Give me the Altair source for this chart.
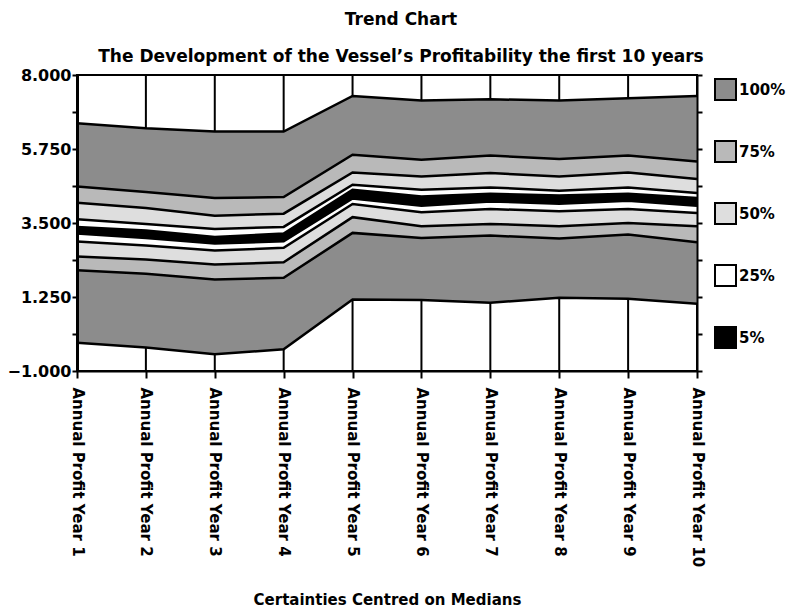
import altair as alt
import pandas as pd

# Year categories on the x axis
years = [f"Annual Profit Year {i}" for i in range(1, 11)]

# Band boundaries per year (thousands), from the outer maximum down to the outer minimum
p100_hi = [6.535, 6.383, 6.280, 6.280, 7.363, 7.221, 7.263, 7.221, 7.293, 7.363]
p75_hi = [4.612, 4.442, 4.260, 4.291, 5.574, 5.422, 5.552, 5.443, 5.552, 5.370]
p50_hi = [4.118, 3.957, 3.723, 3.784, 5.037, 4.915, 5.019, 4.915, 5.037, 4.837]
p25_hi = [3.611, 3.472, 3.320, 3.381, 4.664, 4.512, 4.582, 4.482, 4.582, 4.412]
p5_hi = [3.375, 3.269, 3.078, 3.178, 4.512, 4.309, 4.391, 4.339, 4.391, 4.260]
p5_lo = [3.178, 3.047, 2.874, 2.944, 4.248, 4.027, 4.157, 4.087, 4.178, 4.027]
p25_lo = [2.935, 2.814, 2.662, 2.744, 4.078, 3.824, 3.927, 3.854, 3.927, 3.805]
p50_lo = [2.480, 2.389, 2.237, 2.307, 3.678, 3.399, 3.472, 3.399, 3.502, 3.399]
p75_lo = [2.064, 1.955, 1.782, 1.834, 3.199, 3.041, 3.117, 3.026, 3.147, 2.914]
p100_lo = [-0.138, -0.289, -0.492, -0.341, 1.176, 1.155, 1.076, 1.227, 1.197, 1.045]

# Certainty levels and their fills
levels = ["100%", "75%", "50%", "25%", "5%"]
fills = ["#8c8c8c", "#b9b9b9", "#dedede", "#ffffff", "#000000"]

# Tick positions on the value axis (major every 2.25, minor halfway between)
major_ticks = [8.0, 5.75, 3.5, 1.25, -1.0]
all_ticks = [8.0, 6.875, 5.75, 4.625, 3.5, 2.375, 1.25, 0.125, -1.0]

FONT = "DejaVu Sans"

bounds = [p100_hi, p75_hi, p50_hi, p25_hi, p5_hi, p5_lo, p25_lo, p50_lo, p75_lo, p100_lo]
band_levels = ["100%", "75%", "50%", "25%", "5%", "25%", "50%", "75%", "100%"]

area_rows = []
for k, lvl in enumerate(band_levels):
    upper, lower = bounds[k], bounds[k + 1]
    for i, yr in enumerate(years):
        area_rows.append({"year": yr, "band": f"b{k}", "level": lvl,
                          "upper": upper[i], "lower": lower[i]})
area_df = pd.DataFrame(area_rows)

line_rows = []
for k, b in enumerate(bounds):
    for i, yr in enumerate(years):
        line_rows.append({"year": yr, "edge": f"e{k}", "value": b[i]})
line_df = pd.DataFrame(line_rows)

year_df = pd.DataFrame({"year": years})

x_scale = alt.Scale(type="point", domain=years, padding=0)
y_scale = alt.Scale(domain=[-1, 8], nice=False, zero=False)

label_expr = ("indexof([8, 5.75, 3.5, 1.25, -1], datum.value) >= 0 ? "
              "format(datum.value, '.3f') : ''")

x_axis = alt.Axis(
    title="Certainties Centred on Medians",
    labelAngle=90, labelAlign="left", labelBaseline="middle",
    labelFont=FONT, labelFontSize=15, labelFontWeight="bold", labelColor="black",
    labelPadding=9, labelOverlap=False,
    titleFont=FONT, titleFontSize=15, titleFontWeight="bold", titleColor="black",
    titlePadding=26,
    domainColor="black", domainWidth=2, tickColor="black", tickWidth=2, tickSize=7,
    grid=False, zindex=1,
)

# vertical gridlines at each year, behind the bands
grid = alt.Chart(year_df).mark_rule(color="black", strokeWidth=2).encode(
    x=alt.X("year:N", scale=x_scale, axis=x_axis),
)

areas = alt.Chart(area_df).mark_area(interpolate="linear", opacity=1).encode(
    x=alt.X("year:N", scale=x_scale, axis=x_axis),
    y=alt.Y("upper:Q", scale=y_scale, stack=None, axis=alt.Axis(
        title=None, values=all_ticks, labelExpr=label_expr,
        labelFont=FONT, labelFontSize=16, labelFontWeight="bold", labelColor="black",
        labelPadding=1, domainColor="black", domainWidth=3,
        tickColor="black", tickWidth=2, tickSize=5, grid=False, zindex=1,
    )),
    y2="lower:Q",
    color=alt.Color("level:N", scale=alt.Scale(domain=levels, range=fills),
                    legend=alt.Legend(
                        title=None, orient="none", legendX=637, legendY=3,
                        symbolType="square", symbolSize=441, symbolStrokeColor="black",
                        symbolStrokeWidth=2, symbolOpacity=1,
                        labelFont=FONT, labelFontSize=15, labelFontWeight="bold",
                        labelColor="black", labelOffset=2, rowPadding=33,
                    )),
    detail="band:N",
)

lines = alt.Chart(line_df).mark_line(color="black", strokeWidth=2.5).encode(
    x=alt.X("year:N", scale=x_scale, axis=x_axis),
    y=alt.Y("value:Q", scale=y_scale, axis=alt.Axis(
        orient="right", title=None, values=all_ticks, labels=False,
        domainColor="black", domainWidth=2, tickColor="black", tickWidth=2,
        tickSize=5, grid=False, zindex=1,
    )),
    detail="edge:N",
)

chart = alt.layer(grid, areas, lines).resolve_axis(y="independent").properties(
    width=620,
    height=296,
    autosize=alt.AutoSizeParams(type="none"),
    padding={"left": 77, "top": 75, "right": 90, "bottom": 241},
    title=alt.TitleParams(
        text="Trend Chart",
        subtitle="The Development of the Vessel’s Profitability the first 10 years",
        font=FONT, fontSize=17, fontWeight="bold", color="black",
        subtitleFont=FONT, subtitleFontSize=17, subtitleFontWeight="bold",
        subtitleColor="black", subtitlePadding=20,
        anchor="middle", offset=1, dx=14,
    ),
).configure_view(stroke="black", strokeWidth=2)

chart.save("out.html", embed_options={"renderer": "svg", "actions": False})
